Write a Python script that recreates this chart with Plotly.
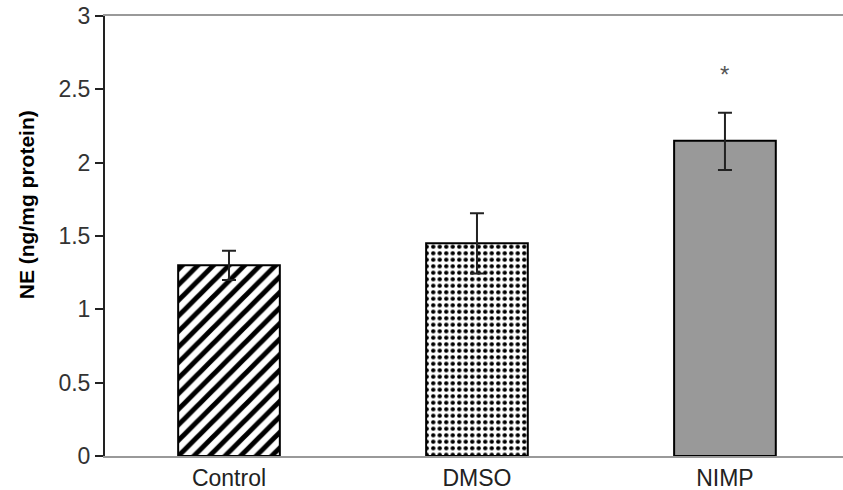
import plotly.graph_objects as go

categories = ["Control", "DMSO", "NIMP"]
values = [1.30, 1.45, 2.15]
errors = [0.10, 0.205, 0.19]
errors_minus = [0.10, 0.205, 0.20]
patterns = ["/", ".", ""]
bar_colors = ["white", "white", "#999999"]
star_label = "*"
star_y = 2.6
y_ticks = [0, 0.5, 1, 1.5, 2, 2.5, 3]
y_ticktext = ["0", "0.5", "1", "1.5", "2", "2.5", "3"]
y_title = "NE (ng/mg protein)"

FONT = "Liberation Sans, Arial, sans-serif"

fig = go.Figure()
for i, c in enumerate(categories):
    pat = dict(shape=patterns[i], fgcolor="black", bgcolor="white", fillmode="overlay", fgopacity=1)
    if patterns[i] == "/":
        pat.update(size=11, solidity=0.45)
    elif patterns[i] == ".":
        pat.update(size=6.5, solidity=0.35)
    fig.add_trace(go.Bar(
        x=[c], y=[values[i]],
        width=0.41,
        marker=dict(color=bar_colors[i], line=dict(color="black", width=2), pattern=pat),
        error_y=dict(type="data", array=[errors[i]], arrayminus=[errors_minus[i]],
                     color="#222222", thickness=2, width=7),
        showlegend=False,
    ))

fig.add_annotation(x=categories[2], y=star_y, text=star_label, showarrow=False,
                   font=dict(family=FONT, size=24, color="#555555"))

fig.add_annotation(xref="paper", yref="paper", x=-0.107, y=0.57, text="<b>" + y_title + "</b>",
                   textangle=-90, showarrow=False, xanchor="center", yanchor="middle",
                   font=dict(family=FONT, size=21, color="black"))

fig.update_layout(
    width=843, height=490,
    margin=dict(l=105, r=0, t=16, b=34),
    plot_bgcolor="white", paper_bgcolor="white",
    font=dict(family=FONT, color="#333333"),
    bargap=0.59,
    xaxis=dict(
        range=[-0.5, 2.476],
        showline=True, linecolor="#999999", linewidth=2, mirror=True,
        ticks="", showgrid=False,
        tickfont=dict(size=23, color="#222222"),
    ),
    yaxis=dict(
        range=[0, 3],
        tickvals=y_ticks, ticktext=y_ticktext,
        showline=True, linecolor="#222222", linewidth=2,
        ticks="outside", ticklen=8, tickwidth=2, tickcolor="#222222",
        showgrid=False, zeroline=False,
        tickfont=dict(size=23, color="#333333"),
    ),
)

fig.write_html("out.html")
